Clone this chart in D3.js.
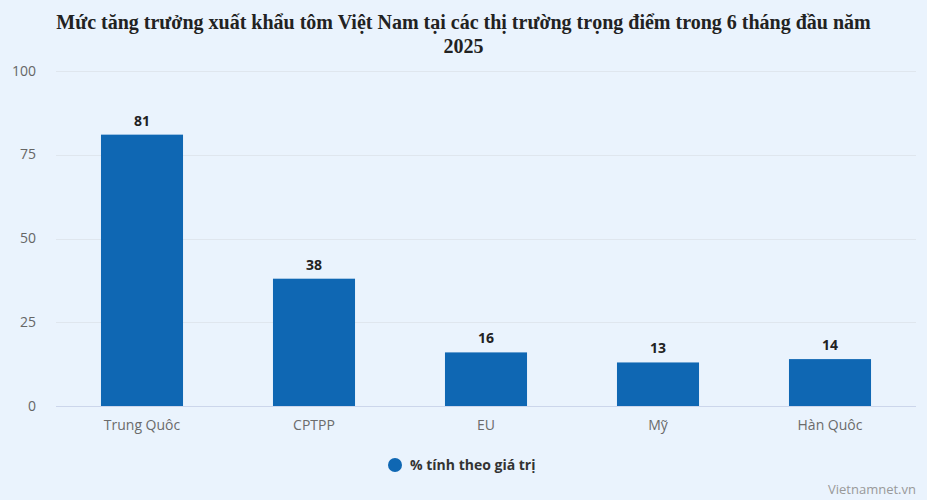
<!DOCTYPE html>
<html>
<head>
    <meta charset="UTF-8">
    <title>Xuất khẩu tôm</title>
    <style>
        body { margin: 0; background: #fff; }
        svg { display: block; }
        .grid line { stroke: #dfe6ee; stroke-width: 1px; shape-rendering: crispEdges; }
        .grid path { display: none; }
        .y.axis path, .y.axis line { display: none; }
        .y.axis text { fill: #666; font-size: 14px; font-family: "Open Sans", sans-serif; }
        .x.axis path { stroke: #ccd6eb; shape-rendering: crispEdges; }
        .x.axis line { display: none; }
        .x.axis text { fill: #6b6b6b; font-size: 14px; font-family: "Open Sans", sans-serif; }
    </style>
</head>
<body>
<script src="https://cdn.jsdelivr.net/npm/d3@7/dist/d3.min.js"></script>
<script>
    var categories = ["Trung Quôc", "CPTPP", "EU", "Mỹ", "Hàn Quôc"];
    var values = [81, 38, 16, 13, 14];
    var yTicks = [0, 25, 50, 75, 100];
    var seriesName = "% tính theo giá trị";

    var W = 927, H = 502;
    var margin = {top: 71, right: 11, bottom: 96, left: 56},
        width = W - margin.left - margin.right,
        height = H - margin.top - margin.bottom;

    var svg = d3.select("body").append("svg")
        .attr("width", W)
        .attr("height", H);

    svg.append("rect")
        .attr("width", W).attr("height", 500)
        .attr("fill", "#eaf3fd");

    var title = svg.append("text")
        .attr("x", W / 2)
        .attr("text-anchor", "middle")
        .style("font-family", "'Liberation Serif', serif")
        .style("font-weight", "bold")
        .style("font-size", "20px")
        .style("fill", "#222");
    title.append("tspan").attr("x", W / 2).attr("y", 29)
        .text("Mức tăng trưởng xuất khẩu tôm Việt Nam tại các thị trường trọng điểm trong 6 tháng đầu năm");
    title.append("tspan").attr("x", W / 2).attr("y", 53).text("2025");

    var g = svg.append("g")
        .attr("transform", `translate(${margin.left},${margin.top})`);

    var x = d3.scaleBand().domain(categories).range([0, width]).paddingInner(0.523).paddingOuter(0.2615);
    var y = d3.scaleLinear().domain([0, 100]).range([height, 0]);

    g.append("g")
        .attr("class", "grid")
        .call(d3.axisLeft(y).tickValues(yTicks.filter(d => d > 0)).tickSize(-width).tickFormat(""));

    g.append("g")
        .attr("class", "y axis")
        .call(d3.axisLeft(y).tickValues(yTicks).tickSize(0).tickPadding(20))
        .selectAll("text").attr("dy", "0.3em");

    g.selectAll(".bar")
        .data(values)
        .enter().append("rect")
        .attr("class", "bar")
        .attr("x", (d, i) => x(categories[i]))
        .attr("y", d => y(d))
        .attr("width", x.bandwidth())
        .attr("height", d => height - y(d))
        .attr("fill", "#0f67b3");

    g.selectAll(".val")
        .data(values)
        .enter().append("text")
        .attr("class", "val")
        .attr("x", (d, i) => x(categories[i]) + x.bandwidth() / 2)
        .attr("y", d => y(d) - 9)
        .attr("text-anchor", "middle")
        .style("font-family", "'Open Sans', sans-serif")
        .style("font-weight", "bold")
        .style("font-size", "14px")
        .style("fill", "#222")
        .text(d => d);

    g.append("g")
        .attr("class", "x axis")
        .attr("transform", `translate(0,${height})`)
        .call(d3.axisBottom(x).tickSize(0).tickPadding(14))
        .select(".domain").attr("d", `M0,0.5H${width}`);

    var legend = svg.append("g")
        .attr("transform", "translate(395,465)");
    legend.append("circle")
        .attr("r", 7)
        .attr("fill", "#0f67b3");
    legend.append("text")
        .attr("x", 15)
        .attr("dy", "0.35em")
        .style("font-family", "'Open Sans', sans-serif")
        .style("font-weight", "bold")
        .style("font-size", "14px")
        .style("fill", "#333")
        .text(seriesName);

    svg.append("text")
        .attr("x", 916)
        .attr("y", 494)
        .attr("text-anchor", "end")
        .style("font-family", "'Open Sans', sans-serif")
        .style("font-size", "13px")
        .style("fill", "#999")
        .text("Vietnamnet.vn");
</script>
</body>
</html>
